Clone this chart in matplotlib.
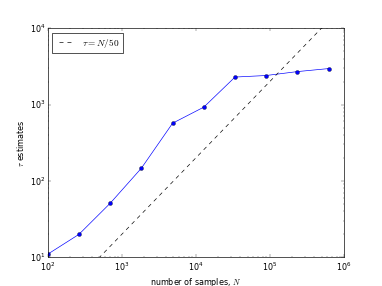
import matplotlib
matplotlib.use("Agg")
import matplotlib.pyplot as plt
import numpy as np

plt.style.use("classic")

# sample sizes and the tau estimates
n_samples = [100, 264, 697, 1842, 4863, 12840, 33900, 89500, 236000, 631000]
tau_est = [11, 20, 51, 147, 570, 925, 2290, 2400, 2700, 2960]

# reference line tau = N/50
n_ref = np.array([1e2, 1e6])
tau_ref = n_ref / 50.0

fig, ax = plt.subplots(figsize=(8, 6))
ax.loglog(n_samples, tau_est, "o-b", markersize=6)
ax.plot(n_ref, tau_ref, "--k", label=r"$\tau = N/50$")
ax.set_xlim(1e2, 1e6)
ax.set_ylim(1e1, 1e4)
ax.set_xlabel("number of samples, $N$")
ax.set_ylabel(r"$\tau$ estimates")
ax.legend(loc="upper left", fontsize=14)

fig.savefig("out.png", dpi=47.75)
